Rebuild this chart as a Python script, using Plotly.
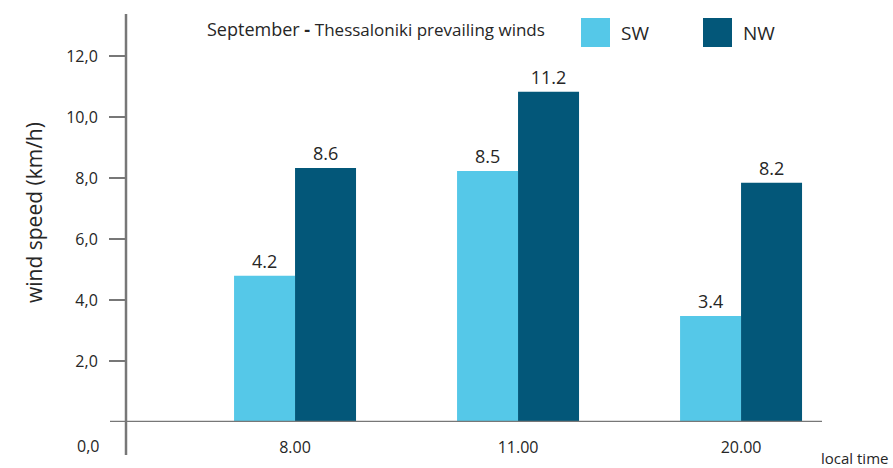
import plotly.graph_objects as go

categories = ["8.00", "11.00", "20.00"]
sw_values = [4.80, 8.23, 3.48]
nw_values = [8.33, 10.83, 7.85]
sw_labels = ["4.2", "8.5", "3.4"]
nw_labels = ["8.6", "11.2", "8.2"]
y_ticks = [2, 4, 6, 8, 10, 12]

W, H = 893, 468
ML, MR, MT, MB = 126, 71, 14, 46
PW, PH = W - ML - MR, H - MT - MB

def px(x):
    return (x - ML) / PW

def py(y):
    return (H - MB - y) / PH

FONT = "Open Sans"
TXT = "#262626"
AXC = "#777777"
SWC = "#55c8e8"
NWC = "#035779"

xpos = list(range(len(categories)))

fig = go.Figure()
fig.add_trace(go.Bar(x=xpos, y=sw_values, name="SW", marker=dict(color=SWC, line=dict(width=0)),
                     text=sw_labels, textposition="outside", cliponaxis=False,
                     textfont=dict(family=FONT, size=18, color=TXT)))
fig.add_trace(go.Bar(x=xpos, y=nw_values, name="NW", marker=dict(color=NWC, line=dict(width=0)),
                     text=nw_labels, textposition="outside", cliponaxis=False,
                     textfont=dict(family=FONT, size=18, color=TXT)))

fig.update_layout(
    width=W, height=H,
    margin=dict(l=ML, r=MR, t=MT, b=MB, autoexpand=False),
    paper_bgcolor="white", plot_bgcolor="white",
    barmode="group", bargap=0.453, bargroupgap=0,
    showlegend=False,
    separators=",.",
    font=dict(family=FONT, color=TXT),
    xaxis=dict(range=[-0.758, 2.363], tickvals=xpos, ticktext=categories,
               showgrid=False, zeroline=False, showline=False, ticks="",
               ticklabelstandoff=14,
               tickfont=dict(family=FONT, size=16, color=TXT)),
    yaxis=dict(range=[0, 13.38], tickvals=y_ticks, tickformat=".1f",
               showgrid=False, zeroline=False, showline=False,
               ticks="outside", ticklen=16, tickwidth=2, tickcolor=AXC,
               ticklabelstandoff=8,
               tickfont=dict(family=FONT, size=16, color=TXT)),
)

# axis lines
fig.add_shape(type="line", xref="paper", yref="paper", x0=px(126), x1=px(126), y0=py(14), y1=py(455),
              line=dict(color=AXC, width=2.5))
fig.add_shape(type="line", xref="paper", yref="y", x0=px(110), x1=px(822), y0=0, y1=0,
              line=dict(color=AXC, width=2.5))

# y axis title
fig.add_annotation(xref="paper", yref="paper", x=px(34), y=py(213), text="wind speed (km/h)", showarrow=False,
                   textangle=-90, xanchor="center", yanchor="middle",
                   font=dict(family=FONT, size=21, color=TXT))

# 0,0 label
fig.add_annotation(xref="paper", yref="paper", x=px(101), y=py(446), text="0,0", showarrow=False,
                   xanchor="right", yanchor="middle", font=dict(family=FONT, size=16, color=TXT))

# x axis title
fig.add_annotation(xref="paper", yref="paper", x=px(890), y=py(458), text="local time", showarrow=False,
                   xanchor="right", yanchor="middle", font=dict(family=FONT, size=15, color=TXT))

# title
fig.add_annotation(xref="paper", yref="paper", x=px(205), y=py(29),
                   text="<span style='font-size:18px'>September</span> <b>-</b> <span style='font-size:17px'>Thessaloniki prevailing winds</span>",
                   showarrow=False, xanchor="left", yanchor="middle", font=dict(family=FONT, size=18, color=TXT))

# legend
for x0, col, name in [(581, SWC, "SW"), (703, NWC, "NW")]:
    fig.add_shape(type="rect", xref="paper", yref="paper", x0=px(x0), x1=px(x0 + 29), y0=py(18), y1=py(47),
                  fillcolor=col, line=dict(width=0))
    fig.add_annotation(xref="paper", yref="paper", x=px(x0 + 38), y=py(33), text=name, showarrow=False,
                       xanchor="left", yanchor="middle", font=dict(family=FONT, size=19, color=TXT))

fig.write_html("out.html", config={"displayModeBar": False},
               post_script="document.body.style.margin='0';document.body.style.padding='0';")
